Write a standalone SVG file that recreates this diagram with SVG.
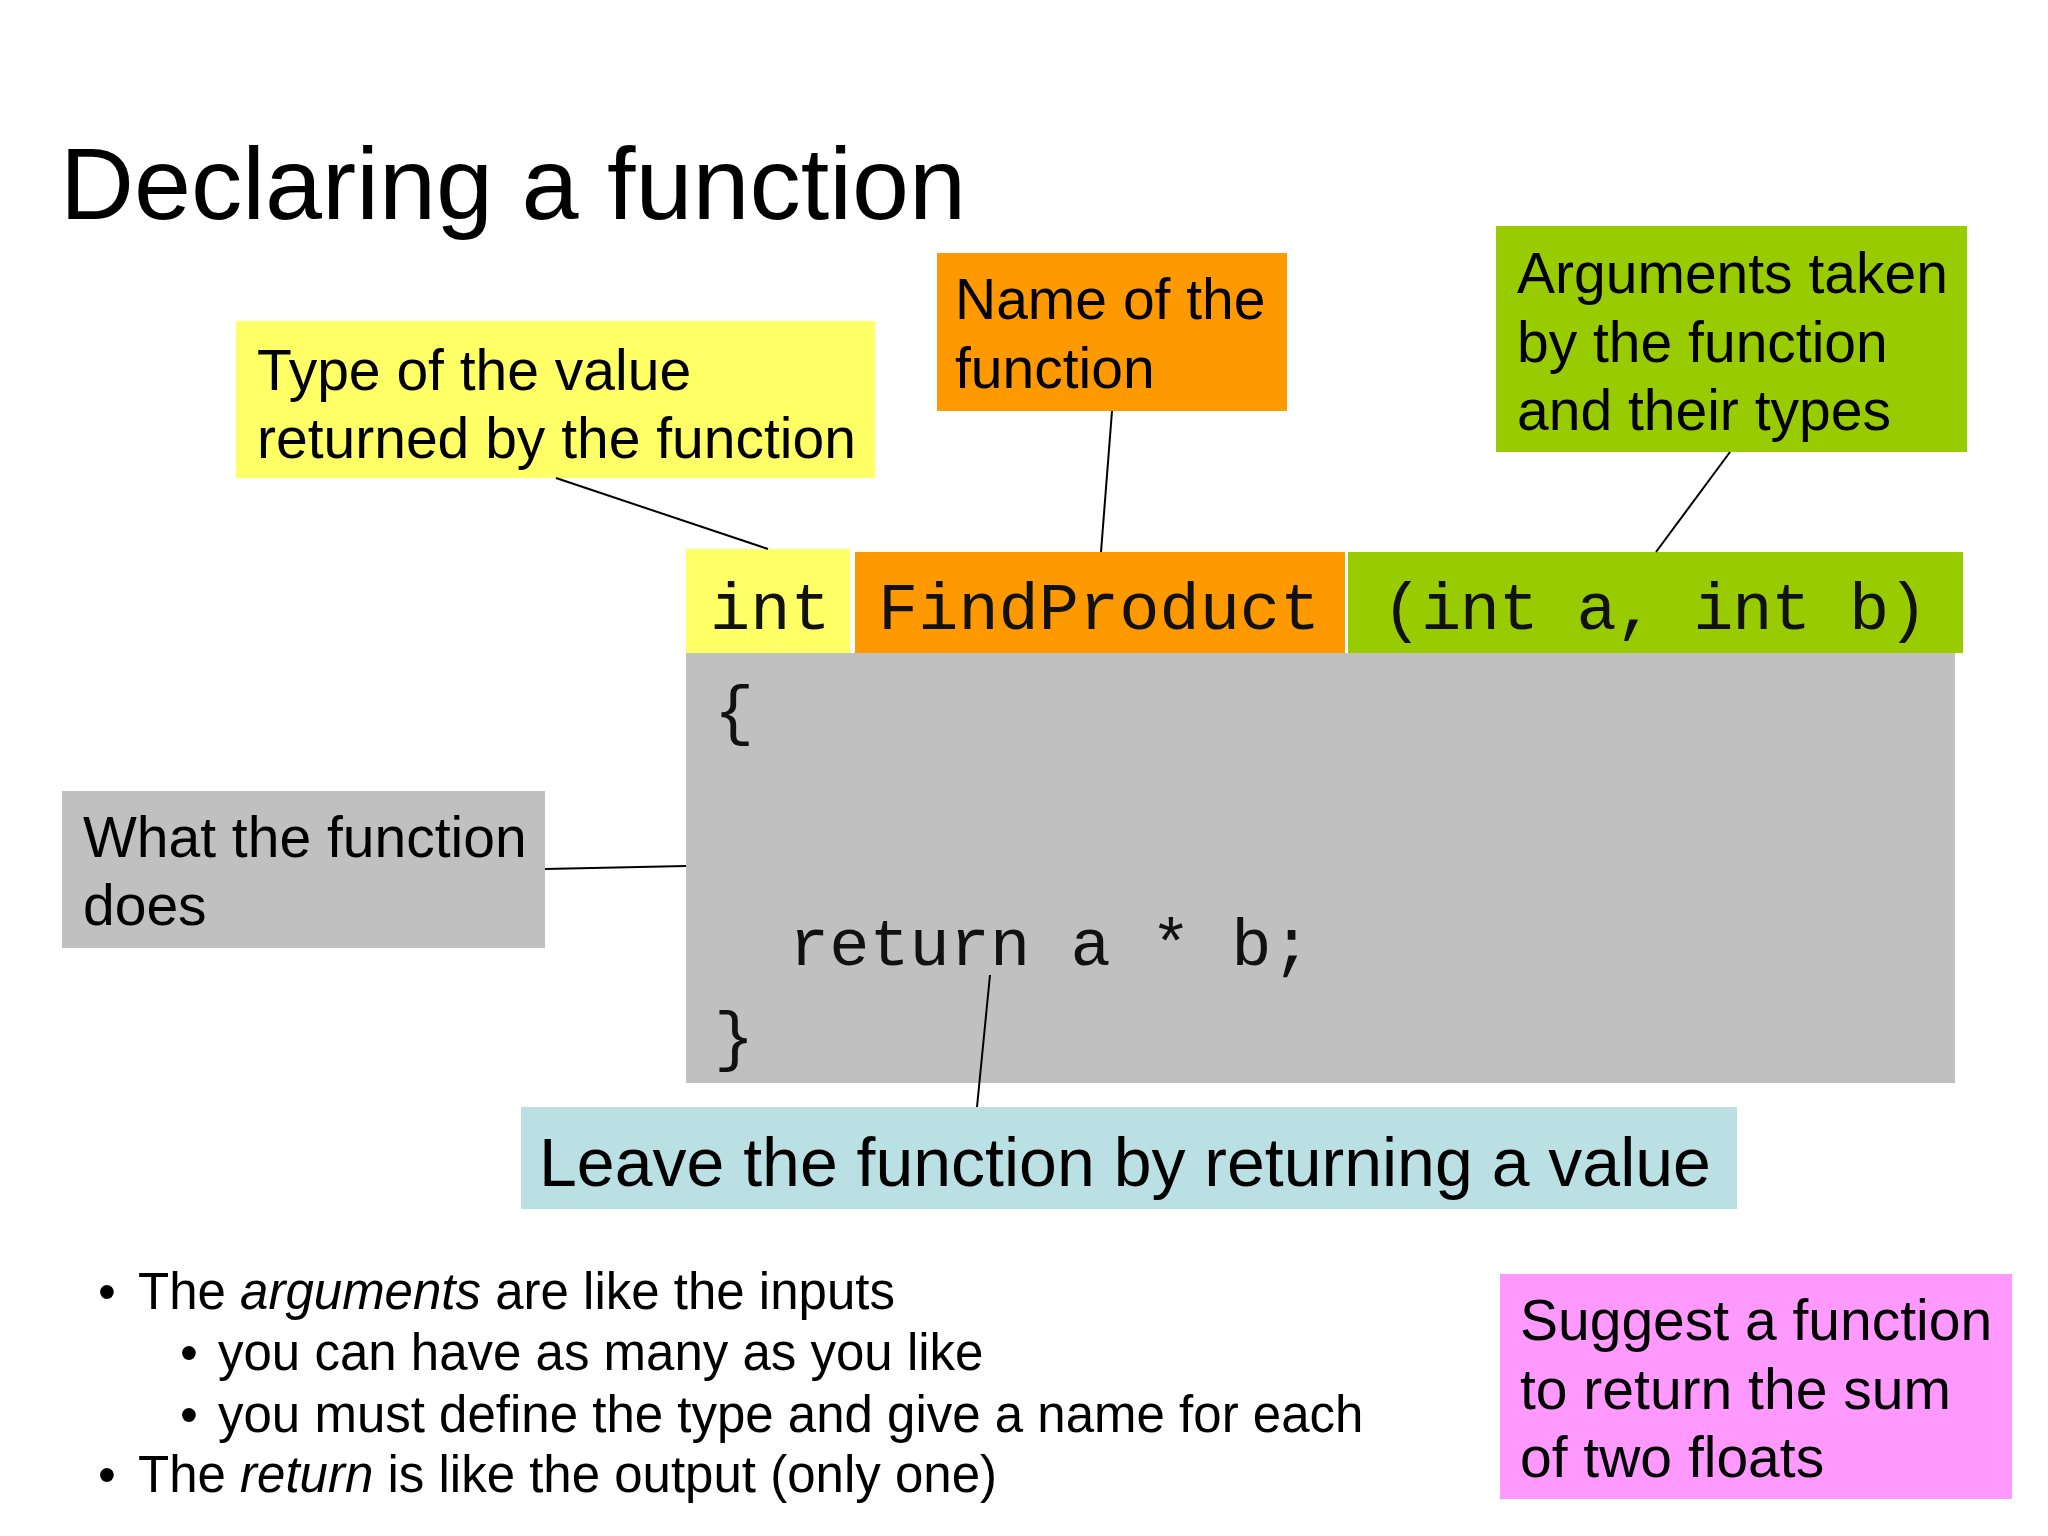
<svg xmlns="http://www.w3.org/2000/svg" width="2048" height="1536" viewBox="0 0 2048 1536">
<style>
.t{font-family:"Liberation Sans",Arial,sans-serif;font-size:57px;fill:#000}
.big{font-size:68px}
.title{font-family:"Liberation Sans",Arial,sans-serif;font-size:102.5px;fill:#000}
.c{font-family:"Liberation Mono","Courier New",monospace;font-size:67px;fill:#111}
.b{font-family:"Liberation Sans",Arial,sans-serif;font-size:51px;fill:#000}
.ln{stroke:#000;stroke-width:2;fill:none}
</style>
<rect width="2048" height="1536" fill="#fff"/>
<text class="title" x="60" y="219">Declaring a function</text>
<g id="type-label">
<rect x="236" y="321" width="639" height="157" fill="#FFFF66"/>
<text class="t" x="257" y="390">Type of the value</text>
<text class="t" x="257" y="458">returned by the function</text>
</g>
<g id="name-label">
<rect x="937" y="253" width="350" height="158" fill="#FF9900"/>
<text class="t" x="955" y="319">Name of the</text>
<text class="t" x="955" y="388">function</text>
</g>
<g id="args-label">
<rect x="1496" y="226" width="471" height="226" fill="#99CC00"/>
<text class="t" x="1517" y="293">Arguments taken</text>
<text class="t" x="1517" y="362">by the function</text>
<text class="t" x="1517" y="430">and their types</text>
</g>
<g id="code-int">
<rect x="686" y="549" width="164" height="104" fill="#FFFF66"/>
<text class="c" x="710" y="629">int</text>
</g>
<g id="code-name">
<rect x="855" y="552" width="490" height="101" fill="#FF9900"/>
<text class="c" x="878" y="629">FindProduct</text>
</g>
<g id="code-args">
<rect x="1348" y="552" width="615" height="101" fill="#99CC00"/>
<text class="c" x="1382" y="629" textLength="546" lengthAdjust="spacing">(int a, int b)</text>
</g>
<g id="code-body">
<rect x="686" y="653" width="1269" height="430" fill="#C0C0C0"/>
<text class="c" x="714" y="732">{</text>
<text class="c" x="789" y="965">return a * b;</text>
<text class="c" x="714" y="1058">}</text>
</g>
<g id="does-label">
<rect x="62" y="791" width="483" height="157" fill="#C0C0C0"/>
<text class="t" x="83" y="857">What the function</text>
<text class="t" x="83" y="925">does</text>
</g>
<g id="return-label">
<rect x="521" y="1107" width="1216" height="102" fill="#BBE0E3"/>
<text class="t big" x="539" y="1186">Leave the function by returning a value</text>
</g>
<g id="bullets">
<text class="b" x="98" y="1309">•</text>
<text class="b" x="138" y="1309">The <tspan font-style="italic">arguments</tspan> are like the inputs</text>
<text class="b" x="180" y="1370">•</text>
<text class="b" x="218" y="1370">you can have as many as you like</text>
<text class="b" x="180" y="1432">•</text>
<text class="b" x="218" y="1432">you must define the type and give a name for each</text>
<text class="b" x="98" y="1492">•</text>
<text class="b" x="138" y="1492">The <tspan font-style="italic">return</tspan> is like the output (only one)</text>
</g>
<g id="suggest-label">
<rect x="1500" y="1274" width="512" height="225" fill="#FF99FF"/>
<text class="t" x="1520" y="1340">Suggest a function</text>
<text class="t" x="1520" y="1409">to return the sum</text>
<text class="t" x="1520" y="1477">of two floats</text>
</g>
<g id="connectors">
<line class="ln" x1="556" y1="478" x2="768" y2="549"/>
<line class="ln" x1="1112" y1="411" x2="1101" y2="552"/>
<line class="ln" x1="1730" y1="452" x2="1656" y2="552"/>
<line class="ln" x1="545" y1="869" x2="686" y2="866"/>
<line class="ln" x1="990" y1="975" x2="977" y2="1107"/>
</g>
</svg>
